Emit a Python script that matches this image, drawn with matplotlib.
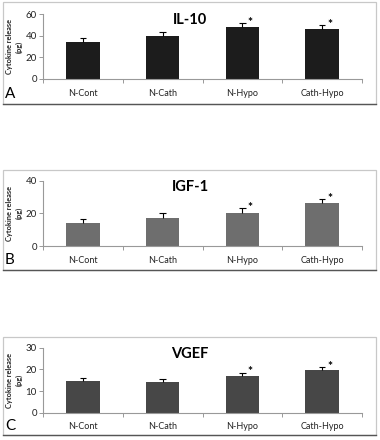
import matplotlib
matplotlib.use("Agg")
import matplotlib.pyplot as plt
from matplotlib.patches import Rectangle
import numpy as np

plt.rcParams['font.family'] = ['Lato', 'DejaVu Sans']

categories = ["N-Cont", "N-Cath", "N-Hypo", "Cath-Hypo"]

il10_values = [34.4, 39.6, 48.2, 46.0]
il10_errors = [3.6, 3.4, 3.4, 3.4]
il10_sig = [False, False, True, True]

igf1_values = [13.9, 16.9, 20.4, 26.1]
igf1_errors = [2.6, 3.1, 2.9, 2.7]
igf1_sig = [False, False, True, True]

vgef_values = [14.5, 14.2, 16.9, 19.7]
vgef_errors = [1.3, 1.5, 1.6, 1.4]
vgef_sig = [False, False, True, True]

panels = [
    dict(title="IL-10", letter="A", values=il10_values, errors=il10_errors, sig=il10_sig,
         ymax=60, yticks=[0, 20, 40, 60], color="#1c1c1c",
         ax_top=14, ax_bot=79, box=(2, 104), title_y=20, letter_y=94),
    dict(title="IGF-1", letter="B", values=igf1_values, errors=igf1_errors, sig=igf1_sig,
         ymax=40, yticks=[0, 20, 40], color="#6e6e6e",
         ax_top=180.7, ax_bot=246, box=(170, 270), title_y=187, letter_y=260),
    dict(title="VGEF", letter="C", values=vgef_values, errors=vgef_errors, sig=vgef_sig,
         ymax=30, yticks=[0, 10, 20, 30], color="#474747",
         ax_top=347.7, ax_bot=412.7, box=(337, 435), title_y=354, letter_y=426),
]

W, H = 380, 440
fig = plt.figure(figsize=(W / 100, H / 100), dpi=100)

for p in panels:
    # panel frame
    y0, y1 = p["box"]
    fig.patches.append(Rectangle((3 / W, 1 - y1 / H), 373 / W, (y1 - y0) / H,
                                 transform=fig.transFigure, fill=False,
                                 edgecolor="#c8c8c8", linewidth=0.9))
    fig.lines.append(plt.Line2D([3 / W, 376 / W], [1 - y1 / H, 1 - y1 / H],
                                transform=fig.transFigure, color="#555555", linewidth=1.0))

    ax = fig.add_axes([43 / W, 1 - p["ax_bot"] / H, 319 / W, (p["ax_bot"] - p["ax_top"]) / H])
    x = np.arange(len(categories))
    vals = np.array(p["values"])
    errs = np.array(p["errors"])
    ax.bar(x, vals, width=0.42, color=p["color"], zorder=2)
    ax.vlines(x, vals, vals + errs, color="black", linewidth=0.8, zorder=3)
    ax.hlines(vals + errs, x - 0.04, x + 0.04, color="black", linewidth=0.8, zorder=3)
    for xi, v, e, s in zip(x, vals, errs, p["sig"]):
        if s:
            ax.annotate("*", (xi, v + e), xytext=(5.5, 0.5), textcoords="offset points",
                        ha="center", va="center", fontsize=8.5, fontweight="bold",
                        color="black")
    ax.set_xlim(-0.5, len(categories) - 0.5)
    ax.set_ylim(0, p["ymax"])
    ax.set_yticks(p["yticks"])
    ax.set_xticks(x)
    ax.set_xticklabels(categories)
    ax.set_xticks(np.arange(len(categories) + 1) - 0.5, minor=True)
    ax.tick_params(axis="x", which="major", length=0, pad=7, labelsize=6.5, labelcolor="#222222")
    ax.tick_params(axis="x", which="minor", length=3, color="#999999", width=0.7)
    ax.tick_params(axis="y", length=3, color="#999999", width=0.7, labelsize=7,
                   labelcolor="#222222", pad=1.5)
    for side in ["top", "right"]:
        ax.spines[side].set_visible(False)
    for side in ["left", "bottom"]:
        ax.spines[side].set_color("#999999")
        ax.spines[side].set_linewidth(0.8)
    ax.set_ylabel("Cytokine release\n(pg)", fontsize=5.3, fontweight="bold",
                  linespacing=1.4, color="#222222")
    ax.yaxis.set_label_coords(-0.064, 0.5)
    ax.patch.set_alpha(0)

    fig.text(190 / W, 1 - p["title_y"] / H, p["title"], ha="center", va="center",
             fontsize=10.5, fontweight="bold", color="black")
    fig.text(5 / W, 1 - p["letter_y"] / H, p["letter"], ha="left", va="center",
             fontsize=11, color="black")

fig.savefig("out.png", dpi=100)
